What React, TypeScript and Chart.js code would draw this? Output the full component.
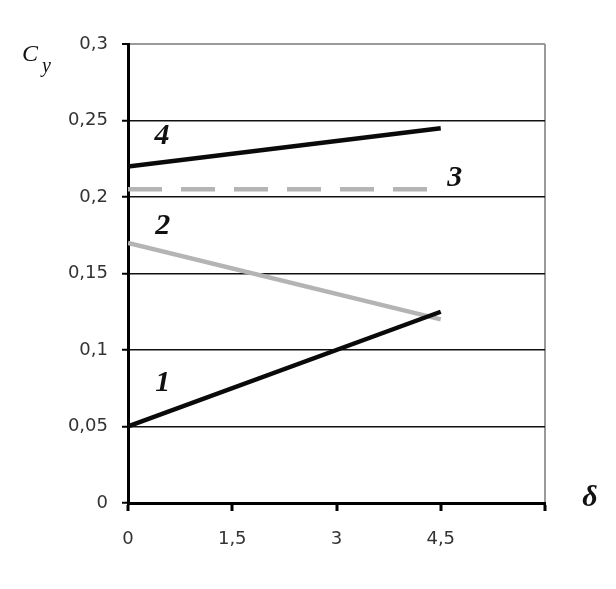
import React, { useEffect, useRef } from "react";
import { Chart, registerables } from "chart.js";

Chart.register(...registerables);

// δ values (x) where each curve is sampled
const deltaValues = [0, 4.5];
// C_y values for the four curves
const curve1 = [0.05, 0.125];
const curve2 = [0.17, 0.12];
const curve3 = [0.205, 0.205];
const curve4 = [0.22, 0.245];
const curveNames = ["1", "2", "3", "4"];

// x axis tick labels (last tick unlabeled)
const xTickValues = [0, 1.5, 3, 4.5, 6];
const xTickLabels = ["0", "1,5", "3", "4,5", ""];

// curve label anchor points (in data units)
const labelDelta = [0.5, 0.5, 4.7, 0.49];
const labelCy = [0.0785, 0.181, 0.212, 0.24];

const toPoints = (ys: number[]) => deltaValues.map((x, i) => ({ x, y: ys[i] }));

const labelPlugin = {
  id: "curveLabels",
  afterDatasetsDraw(chart: any) {
    const { ctx, scales, chartArea } = chart;
    const xs = scales.x;
    const ys = scales.y;
    ctx.save();
    ctx.fillStyle = "#111";
    ctx.textAlign = "center";
    ctx.textBaseline = "middle";
    ctx.font = "italic bold 30px 'Liberation Serif'";
    curveNames.forEach((n, i) => {
      ctx.fillText(n, xs.getPixelForValue(labelDelta[i]), ys.getPixelForValue(labelCy[i]));
    });
    // axis titles
    ctx.font = "italic 24px 'Liberation Serif'";
    ctx.textAlign = "left";
    ctx.fillText("C", chartArea.left - 106, chartArea.top + 11);
    ctx.font = "italic 20px 'Liberation Serif'";
    ctx.fillText("y", chartArea.left - 86, chartArea.top + 23);
    ctx.font = "italic bold 30px 'Liberation Serif'";
    ctx.textAlign = "center";
    ctx.fillText("δ", chartArea.right + 45, chartArea.bottom - 5);
    ctx.restore();
  },
};

export default function App() {
  const ref = useRef<HTMLCanvasElement | null>(null);
  useEffect(() => {
    if (!ref.current) return;
    const tickFont = { family: "'DejaVu Sans'", size: 18 };
    const chart = new Chart(ref.current, {
      type: "line",
      data: {
        datasets: [
          { label: curveNames[0], data: toPoints(curve1), borderColor: "#0a0a0a", borderWidth: 4.5 },
          { label: curveNames[1], data: toPoints(curve2), borderColor: "#b4b4b4", borderWidth: 4.5 },
          { label: curveNames[2], data: toPoints(curve3), borderColor: "#b4b4b4", borderWidth: 4.5, borderDash: [34, 19] },
          { label: curveNames[3], data: toPoints(curve4), borderColor: "#0a0a0a", borderWidth: 4.5 },
        ] as any,
      },
      options: {
        animation: false,
        responsive: false,
        layout: { padding: { top: 44, right: 71, left: 0, bottom: 0 } },
        plugins: { legend: { display: false }, tooltip: { enabled: false } },
        elements: { point: { radius: 0 }, line: { tension: 0, borderCapStyle: "butt" } },
        scales: {
          x: {
            type: "linear",
            min: 0,
            max: 6,
            afterBuildTicks: (s: any) => {
              s.ticks = xTickValues.map((v) => ({ value: v }));
            },
            afterFit: (s: any) => {
              s.height = 86;
            },
            ticks: {
              autoSkip: false,
              maxRotation: 0,
              padding: 18,
              color: "#333",
              font: tickFont,
              callback: (v: any) => {
                const i = xTickValues.indexOf(Number(v));
                return i >= 0 ? xTickLabels[i] : "";
              },
            },
            grid: {
              drawOnChartArea: true,
              color: (c: any) => (c.tick && c.tick.value === 6 ? "#9a9a9a" : "rgba(0,0,0,0)"),
              lineWidth: 2,
              tickLength: 8,
              tickColor: "#000",
              tickWidth: 3,
            },
            border: { color: "#000", width: 3 },
          },
          y: {
            type: "linear",
            min: 0,
            max: 0.3,
            afterFit: (s: any) => {
              s.width = 128;
            },
            ticks: {
              stepSize: 0.05,
              padding: 14,
              color: "#333",
              font: tickFont,
              callback: (v: any) => String(Math.round(Number(v) * 100) / 100).replace(".", ","),
            },
            grid: {
              color: (c: any) =>
                c.tick && Math.abs(c.tick.value - 0.3) < 1e-9 ? "#9a9a9a" : "#111",
              lineWidth: (c: any) => (c.tick && Math.abs(c.tick.value - 0.3) < 1e-9 ? 2 : 1.5),
              tickLength: 6,
              tickColor: "#000",
              tickWidth: 2,
            },
            border: { color: "#000", width: 3 },
          },
        },
      } as any,
      plugins: [labelPlugin],
    });
    return () => chart.destroy();
  }, []);
  return (
    <div style={{ position: "absolute", left: 0, top: 0, width: 616, height: 589, background: "#fff" }}>
      <canvas ref={ref} width={616} height={589} />
    </div>
  );
}
